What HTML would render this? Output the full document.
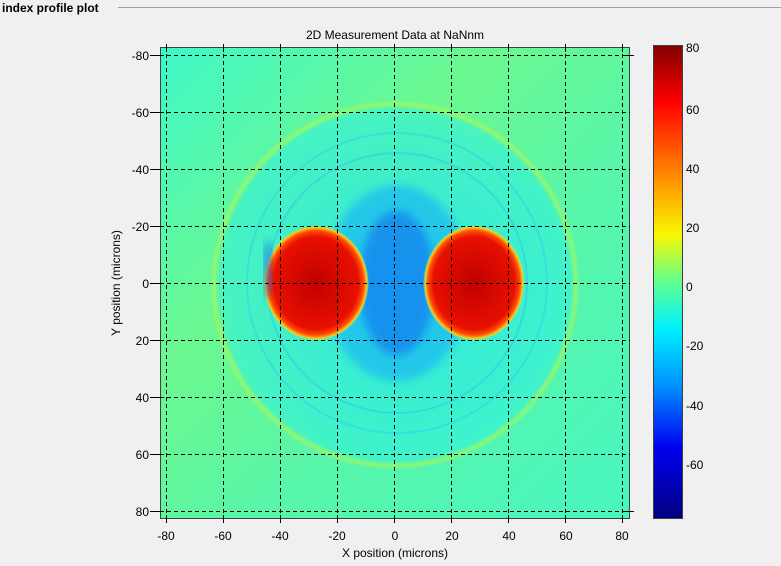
<!DOCTYPE html>
<html><head><style>
html,body{margin:0;padding:0;background:#f0f0f0;width:781px;height:566px;overflow:hidden;font-family:"Liberation Sans",sans-serif}
</style></head><body>
<svg width="781" height="566" xmlns="http://www.w3.org/2000/svg" font-family="Liberation Sans, sans-serif">
<defs>
<linearGradient id="bg" x1="0" y1="0" x2="1" y2="1">
<stop offset="0" stop-color="#3ef8c8"/><stop offset="0.35" stop-color="#6cf890"/><stop offset="0.6" stop-color="#58f6a8"/><stop offset="1" stop-color="#48f6c0"/>
</linearGradient>
<radialGradient id="ring" cx="395" cy="285" r="185" gradientUnits="userSpaceOnUse">
<stop offset="0" stop-color="#20e0f0" stop-opacity="0.8"/>
<stop offset="0.9" stop-color="#30f0e0" stop-opacity="0.6"/>
<stop offset="0.95" stop-color="#30f0e0" stop-opacity="0.5"/>
<stop offset="0.975" stop-color="#b0f850" stop-opacity="0.6"/>
<stop offset="1" stop-color="#c8f840" stop-opacity="0"/>
</radialGradient>
<radialGradient id="red" cx="0.5" cy="0.5" r="0.5">
<stop offset="0" stop-color="#c00000"/><stop offset="0.8" stop-color="#e81000"/><stop offset="0.9" stop-color="#ff5000"/><stop offset="0.96" stop-color="#f8d020"/><stop offset="1" stop-color="#40f0d0" stop-opacity="0"/>
</radialGradient>
<linearGradient id="cb" x1="0" y1="0" x2="0" y2="1">
<stop offset="0" stop-color="#800000"/><stop offset="0.12" stop-color="#ff0000"/><stop offset="0.3" stop-color="#ffa000"/><stop offset="0.4" stop-color="#f8f800"/><stop offset="0.5" stop-color="#60ff90"/><stop offset="0.6" stop-color="#00f0ff"/><stop offset="0.72" stop-color="#0090ff"/><stop offset="0.85" stop-color="#0000f0"/><stop offset="1" stop-color="#000080"/>
</linearGradient>
<filter id="bl"><feGaussianBlur stdDeviation="4"/></filter>
<clipPath id="cp"><rect x="160" y="47" width="470" height="472"/></clipPath>
</defs>
<text x="2" y="12" font-size="12" font-weight="bold">index profile plot</text>
<line x1="118" y1="7.5" x2="781" y2="7.5" stroke="#a0a0a0"/>
<text x="395" y="39" font-size="12" text-anchor="middle">2D Measurement Data at NaNnm</text>
<g clip-path="url(#cp)">
<rect x="160" y="47" width="470" height="472" fill="url(#bg)"/>
<circle cx="395" cy="285" r="185" fill="url(#ring)"/>
<ellipse cx="397" cy="283" rx="72" ry="98" fill="#18b0f8" opacity="0.6" filter="url(#bl)"/>
<ellipse cx="397" cy="283" rx="38" ry="72" fill="#1060f0" opacity="0.5" filter="url(#bl)"/>
<circle cx="397" cy="283" r="150" fill="none" stroke="#20b8f8" stroke-width="2" opacity="0.3"/>
<circle cx="397" cy="283" r="130" fill="none" stroke="#20a8f8" stroke-width="2" opacity="0.3"/>
<ellipse cx="316" cy="283" rx="53" ry="58" fill="url(#red)"/>
<ellipse cx="474" cy="283" rx="51" ry="58" fill="url(#red)"/>
<ellipse cx="268" cy="270" rx="4" ry="30" fill="#1050f0" opacity="0.6" filter="url(#bl)"/>
</g>
<rect x="160.5" y="47.5" width="469" height="471" fill="none" stroke="#404040"/>
<g stroke="#000" stroke-dasharray="4,3" stroke-width="1">
<line x1="166.5" y1="47" x2="166.5" y2="519"/><line x1="223.5" y1="47" x2="223.5" y2="519"/><line x1="280.5" y1="47" x2="280.5" y2="519"/><line x1="337.5" y1="47" x2="337.5" y2="519"/><line x1="394.5" y1="47" x2="394.5" y2="519"/><line x1="451.5" y1="47" x2="451.5" y2="519"/><line x1="508.5" y1="47" x2="508.5" y2="519"/><line x1="565.5" y1="47" x2="565.5" y2="519"/><line x1="622.5" y1="47" x2="622.5" y2="519"/>
<line x1="160" y1="55.5" x2="630" y2="55.5"/><line x1="160" y1="112.5" x2="630" y2="112.5"/><line x1="160" y1="169.5" x2="630" y2="169.5"/><line x1="160" y1="226.5" x2="630" y2="226.5"/><line x1="160" y1="283.5" x2="630" y2="283.5"/><line x1="160" y1="340.5" x2="630" y2="340.5"/><line x1="160" y1="397.5" x2="630" y2="397.5"/><line x1="160" y1="454.5" x2="630" y2="454.5"/><line x1="160" y1="511.5" x2="630" y2="511.5"/>
</g>
<g stroke="#000">
<line x1="166.5" y1="44" x2="166.5" y2="52"/><line x1="223.5" y1="44" x2="223.5" y2="52"/><line x1="280.5" y1="44" x2="280.5" y2="52"/><line x1="337.5" y1="44" x2="337.5" y2="52"/><line x1="394.5" y1="44" x2="394.5" y2="52"/><line x1="451.5" y1="44" x2="451.5" y2="52"/><line x1="508.5" y1="44" x2="508.5" y2="52"/><line x1="565.5" y1="44" x2="565.5" y2="52"/><line x1="622.5" y1="44" x2="622.5" y2="52"/>
<line x1="166.5" y1="515" x2="166.5" y2="523"/><line x1="223.5" y1="515" x2="223.5" y2="523"/><line x1="280.5" y1="515" x2="280.5" y2="523"/><line x1="337.5" y1="515" x2="337.5" y2="523"/><line x1="394.5" y1="515" x2="394.5" y2="523"/><line x1="451.5" y1="515" x2="451.5" y2="523"/><line x1="508.5" y1="515" x2="508.5" y2="523"/><line x1="565.5" y1="515" x2="565.5" y2="523"/><line x1="622.5" y1="515" x2="622.5" y2="523"/>
<line x1="150" y1="55.5" x2="164" y2="55.5"/><line x1="150" y1="112.5" x2="164" y2="112.5"/><line x1="150" y1="169.5" x2="164" y2="169.5"/><line x1="150" y1="226.5" x2="164" y2="226.5"/><line x1="150" y1="283.5" x2="164" y2="283.5"/><line x1="150" y1="340.5" x2="164" y2="340.5"/><line x1="150" y1="397.5" x2="164" y2="397.5"/><line x1="150" y1="454.5" x2="164" y2="454.5"/><line x1="150" y1="511.5" x2="164" y2="511.5"/>
<line x1="626" y1="55.5" x2="634" y2="55.5"/><line x1="626" y1="511.5" x2="634" y2="511.5"/>
</g>
<g font-size="12" text-anchor="middle">
<text x="166" y="540">-80</text><text x="223" y="540">-60</text><text x="280" y="540">-40</text><text x="337" y="540">-20</text><text x="395" y="540">0</text><text x="452" y="540">20</text><text x="509" y="540">40</text><text x="566" y="540">60</text><text x="622" y="540">80</text>
</g>
<g font-size="12" text-anchor="end">
<text x="149" y="60">-80</text><text x="149" y="117">-60</text><text x="149" y="174">-40</text><text x="149" y="231">-20</text><text x="149" y="288">0</text><text x="149" y="345">20</text><text x="149" y="402">40</text><text x="149" y="459">60</text><text x="149" y="516">80</text>
</g>
<text x="395" y="557" font-size="12" text-anchor="middle">X position (microns)</text>
<text transform="translate(120,283) rotate(-90)" font-size="12" text-anchor="middle">Y position (microns)</text>
<rect x="653.5" y="45.5" width="29" height="473" fill="url(#cb)" stroke="#404040"/>
<g font-size="12">
<text x="686" y="52">80</text><text x="686" y="114">60</text><text x="686" y="173">40</text><text x="686" y="232">20</text><text x="686" y="291">0</text><text x="686" y="350">-20</text><text x="686" y="410">-40</text><text x="686" y="469">-60</text>
</g>
</svg>
</body></html>
